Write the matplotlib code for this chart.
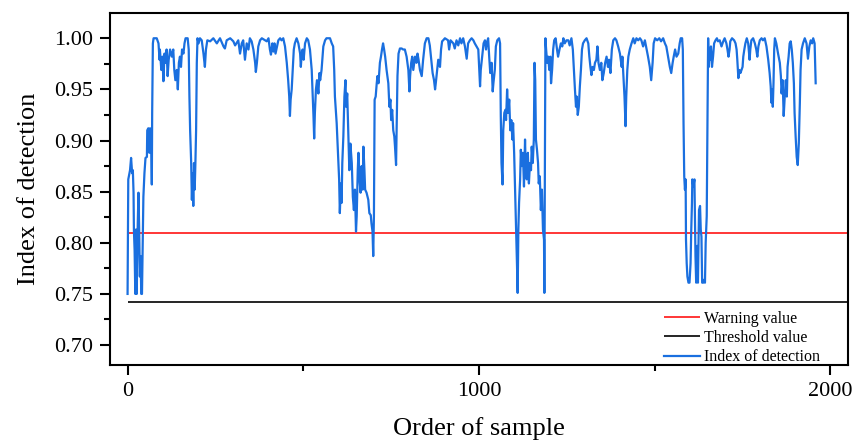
import matplotlib
matplotlib.use("Agg")
import matplotlib.pyplot as plt
from matplotlib.ticker import MultipleLocator, FormatStrFormatter

plt.rcParams['font.family'] = ['Liberation Serif', 'DejaVu Serif']

# Detection index per sample (sample order, value)
sample_idx = [
    0, 2, 7, 10, 13, 15, 17, 18, 20, 22, 24, 26, 29, 31, 33, 35, 37, 39, 41, 43, 45, 48, 51, 55, 56,
    59, 62, 64, 67, 69, 70, 72, 74, 83, 88, 91, 92, 96, 99, 102, 105, 108, 111, 114, 117, 121, 126,
    130, 133, 136, 140, 143, 146, 149, 152, 155, 159, 162, 165, 171, 174, 176, 178, 181, 183, 185,
    187, 189, 191, 193, 195, 197, 199, 202, 206, 211, 216, 220, 223, 227, 235, 244, 254, 263, 273,
    277, 282, 292, 301, 306,
    315, 320, 325, 329, 334, 339, 344, 348, 353, 358, 363, 365, 368, 372, 377, 382, 391, 396, 401,
    405, 408, 412, 415, 418, 421, 424, 429, 434, 438, 443, 448, 453, 457, 460, 462, 464, 467, 470,
    473, 476, 481, 486, 491, 493, 495, 498, 501, 505, 510, 514, 519, 524, 527, 529, 531, 533, 536,
    539, 543, 546, 548, 552, 557, 562, 566, 576, 581, 585, 588, 590, 595, 598, 602, 604, 607, 609,
    611, 614, 617, 620, 622, 625, 628, 631, 634,
    638, 641, 644, 647, 650, 652, 655, 657, 660, 663, 666, 669, 671, 674, 676, 680, 685, 688, 692,
    694, 697, 699, 701, 703, 706, 709, 711, 714, 718, 721, 724, 727, 730, 733, 737, 742, 745, 748,
    750, 753, 756, 759, 761, 764, 766, 768, 771, 775, 780, 784, 789, 794, 799, 802, 804, 807, 810,
    813, 818, 822, 825, 828, 832, 837, 841, 846, 851, 856, 860, 865, 868, 872, 875, 877, 881, 884,
    889, 892, 895, 898, 903, 912, 915, 919, 927, 931, 936, 941, 946, 950, 955, 960, 965,
    969, 974, 979, 984, 988, 993, 998, 1003, 1005, 1009, 1013, 1017, 1020, 1022, 1026, 1029, 1032,
    1036, 1039, 1041, 1045, 1048, 1052, 1057, 1060, 1062, 1064, 1067, 1069, 1072, 1075, 1077, 1080,
    1083, 1086, 1089, 1092, 1095, 1097, 1100, 1102, 1104, 1106, 1108, 1110, 1112, 1114, 1117, 1119,
    1122, 1125, 1128, 1131, 1133, 1136, 1139, 1142, 1145, 1148, 1150, 1153, 1156, 1158, 1160, 1162,
    1165, 1168, 1170, 1173, 1176, 1179, 1182, 1185, 1186, 1188, 1189, 1191, 1194, 1197, 1200, 1203,
    1205, 1208, 1211, 1214, 1218, 1222, 1225, 1229, 1233, 1237, 1240, 1244, 1249, 1254, 1258, 1263,
    1267, 1270, 1273, 1276, 1278, 1281, 1284, 1287, 1290, 1293, 1296, 1301,
    1306, 1311, 1314, 1317, 1320, 1323, 1327, 1330, 1334, 1337, 1340, 1344, 1348, 1351, 1355, 1359,
    1363, 1367, 1370, 1374, 1378, 1382, 1387, 1391, 1396, 1401, 1406, 1408, 1411, 1414, 1417, 1419,
    1422, 1425, 1429, 1434, 1439, 1443, 1448, 1453, 1458, 1462, 1467, 1472, 1477, 1481, 1486, 1490,
    1494, 1497, 1501, 1507, 1513, 1518, 1524, 1529, 1533, 1538, 1543, 1547, 1551, 1554, 1558, 1562,
    1567, 1571, 1574, 1578, 1580, 1582, 1584, 1586, 1588, 1589, 1591, 1593, 1596, 1599, 1602, 1604,
    1606, 1607, 1610, 1613,
    1616, 1618, 1621, 1623, 1626, 1629, 1631, 1633, 1635, 1638, 1641, 1643, 1645, 1648, 1650, 1652,
    1654, 1656, 1658, 1660, 1663, 1666, 1669, 1673, 1677, 1680, 1685, 1690, 1695, 1699, 1704, 1707,
    1710, 1713, 1715, 1720, 1726, 1730, 1733, 1735, 1738, 1741, 1744, 1747, 1750, 1752, 1755, 1758,
    1762, 1766, 1770, 1772, 1775, 1780, 1785, 1789, 1792, 1795, 1799, 1804, 1808, 1813, 1818, 1823,
    1827, 1830, 1832, 1834, 1836, 1838, 1840, 1842, 1846, 1851, 1856, 1859, 1861, 1864, 1867, 1870,
    1873, 1876, 1878, 1881, 1884, 1887, 1890, 1893, 1896, 1898, 1901, 1904, 1907, 1910, 1913, 1915,
    1918, 1922, 1927, 1932, 1936, 1940, 1944, 1948, 1951, 1955, 1958,
]

detection_index = [
    0.750, 0.862, 0.871, 0.883, 0.868, 0.871, 0.849, 0.813, 0.793, 0.750, 0.813, 0.750, 0.819, 0.849,
    0.813, 0.767, 0.787, 0.750, 0.750, 0.800, 0.845, 0.868, 0.883, 0.884, 0.910, 0.912, 0.888, 0.912,
    0.910, 0.857, 0.927, 0.995, 1.000, 1.000, 0.995, 0.979, 0.989, 0.969, 0.982, 0.958, 0.985, 0.976,
    0.989, 0.963, 0.979, 0.989, 0.982, 0.989, 0.969, 0.959, 0.969, 0.950, 0.976, 0.982, 0.972, 0.989,
    0.985, 0.995, 1.000, 1.000, 0.989, 0.943, 0.910, 0.878, 0.842, 0.868, 0.836, 0.878, 0.852, 0.878,
    0.910, 0.976, 1.000, 0.995, 1.000, 0.998, 0.985, 0.972, 0.989, 0.998, 0.997, 1.000, 0.995, 1.000,
    0.992, 0.990, 0.998, 1.000, 0.997, 0.993,
    0.998, 0.985, 0.995, 0.998, 0.979, 0.995, 0.989, 1.000, 0.997, 0.989, 0.976, 0.967, 0.976, 0.992,
    0.998, 1.000, 0.998, 0.997, 1.000, 0.989, 0.984, 0.995, 0.987, 0.995, 0.985, 0.990, 0.998, 1.000,
    0.998, 1.000, 0.992, 0.976, 0.959, 0.943, 0.924, 0.940, 0.950, 0.969, 0.989, 0.995, 1.000, 0.995,
    0.985, 0.972, 0.982, 0.989, 0.979, 0.995, 1.000, 0.998, 0.989, 0.969, 0.943, 0.924, 0.902, 0.927,
    0.950, 0.959, 0.946, 0.966, 0.959, 0.969, 0.992, 0.998, 1.000, 1.000, 0.995, 0.992, 0.969, 0.943,
    0.917, 0.894, 0.862, 0.829, 0.858, 0.839, 0.878, 0.904, 0.943, 0.959, 0.933, 0.946, 0.910, 0.871,
    0.897,
    0.878, 0.845, 0.832, 0.852, 0.811, 0.826, 0.871, 0.888, 0.862, 0.849, 0.875, 0.852, 0.894, 0.871,
    0.852, 0.849, 0.842, 0.829, 0.827, 0.819, 0.811, 0.787, 0.826, 0.940, 0.943, 0.956, 0.963, 0.956,
    0.976, 0.982, 0.989, 0.995, 0.989, 0.982, 0.969, 0.956, 0.933, 0.940, 0.920, 0.930, 0.910, 0.904,
    0.894, 0.876, 0.923, 0.963, 0.985, 0.990, 0.990, 0.989, 0.989, 0.982, 0.969, 0.948, 0.963, 0.976,
    0.982, 0.969, 0.982, 0.976, 0.985, 0.979, 0.969, 0.963, 0.979, 0.995, 1.000, 1.000, 0.993, 0.976,
    0.966, 0.959, 0.950, 0.956, 0.969, 0.979, 0.972, 0.989, 0.997, 0.998, 1.000, 0.998, 0.989, 0.998,
    0.995, 0.990, 0.998, 0.993, 1.000, 0.995, 1.000, 0.992, 0.980,
    0.995, 0.998, 1.000, 0.998, 0.995, 0.992, 0.989, 0.953, 0.969, 0.982, 0.995, 0.998, 0.989, 0.995,
    1.000, 0.982, 0.966, 0.976, 0.948, 0.956, 0.969, 0.992, 0.998, 1.000, 0.995, 0.924, 0.878, 0.857,
    0.910, 0.927, 0.930, 0.920, 0.950, 0.927, 0.940, 0.910, 0.920, 0.901, 0.917, 0.888, 0.862, 0.836,
    0.813, 0.780, 0.751, 0.813, 0.839, 0.862, 0.891, 0.875, 0.888, 0.855, 0.901, 0.871, 0.862, 0.888,
    0.858, 0.878, 0.871, 0.894, 0.878, 0.901, 0.976, 0.959, 0.901, 0.891, 0.878, 0.858, 0.865, 0.832,
    0.852, 0.813, 0.803, 0.751, 0.910, 1.000, 0.989, 0.976, 0.982, 0.969, 0.982, 0.956, 0.969, 0.989,
    0.998, 1.000, 0.989, 0.982, 0.989, 0.995, 0.992, 1.000, 0.995, 0.998, 0.998, 0.993, 1.000, 0.989,
    0.969, 0.950, 0.933, 0.943, 0.925, 0.933, 0.953, 0.969, 0.989, 0.995, 0.998,
    1.000, 0.995, 0.982, 0.972, 0.964, 0.972, 0.969, 0.976, 0.979, 0.992, 0.976, 0.969, 0.976, 0.959,
    0.966, 0.976, 0.982, 0.972, 0.979, 0.966, 0.989, 0.998, 1.000, 0.998, 0.992, 0.985, 0.972, 0.982,
    0.963, 0.943, 0.914, 0.943, 0.969, 0.982, 0.989, 0.995, 1.000, 0.995, 1.000, 0.998, 1.000, 0.998,
    0.992, 0.998, 0.989, 0.982, 0.972, 0.959, 0.976, 0.995, 1.000, 0.998, 1.000, 0.997, 1.000, 0.995,
    0.992, 0.982, 0.972, 0.966, 0.976, 0.982, 0.989, 0.982, 0.985, 0.995, 1.000, 1.000, 0.989, 0.917,
    0.865, 0.852, 0.862, 0.803, 0.780, 0.767, 0.761, 0.761, 0.780, 0.813, 0.839, 0.862, 0.855, 0.862,
    0.787, 0.761, 0.797, 0.761, 0.832, 0.836, 0.813, 0.806, 0.761, 0.761, 0.764, 0.761, 0.800, 0.826,
    0.910, 1.000, 0.972, 0.989, 0.979, 0.992, 0.972, 0.982, 0.995, 0.998, 1.000, 0.997, 0.998, 0.992,
    0.997, 1.000, 0.995, 0.989, 0.982, 0.989, 0.997, 1.000, 0.998, 0.995, 0.989, 0.979, 0.961, 0.969,
    0.966, 0.969, 0.972, 0.982, 0.989, 0.995, 1.000, 0.995, 0.979, 0.989, 0.998, 1.000, 0.995, 0.989,
    0.982, 0.992, 0.998, 1.000, 0.998, 1.000, 0.992, 0.979, 0.966, 0.953, 0.937, 0.950, 0.933, 0.956,
    0.989, 1.000, 0.995, 0.985, 0.976, 0.963, 0.946, 0.959, 0.924, 0.943, 0.959, 0.943, 0.972, 0.982,
    0.995, 0.997, 0.989, 0.976, 0.956, 0.927, 0.904, 0.884, 0.876, 0.897, 0.937, 0.969, 0.989, 0.995,
    1.000, 0.995, 0.980, 0.992, 0.998, 0.995, 1.000, 0.995, 0.956,
]

warning_value = 0.81
threshold_value = 0.742

x_limits = (-50, 2050)
y_limits = (0.6805, 1.0247)
x_ticks = [0, 1000, 2000]
y_ticks = [0.70, 0.75, 0.80, 0.85, 0.90, 0.95, 1.00]

fig = plt.figure(figsize=(8.53, 4.45), dpi=100)
ax = fig.add_axes([110 / 853, 1 - 365 / 445, 738 / 853, 352 / 445])

ax.hlines(warning_value, sample_idx[0], x_limits[1], colors='#ff0000', linewidth=1.1,
          label='Warning value', zorder=2)
ax.hlines(threshold_value, sample_idx[0], x_limits[1], colors='black', linewidth=1.2,
          label='Threshold value', zorder=2)
ax.plot(sample_idx, detection_index, color='#1a6fdf', linewidth=1.6,
        label='Index of detection', zorder=3)

ax.set_xlim(*x_limits)
ax.set_ylim(*y_limits)
ax.set_xticks(x_ticks)
ax.set_yticks(y_ticks)
ax.xaxis.set_minor_locator(MultipleLocator(500))
ax.yaxis.set_minor_locator(MultipleLocator(0.025))
ax.yaxis.set_major_formatter(FormatStrFormatter('%.2f'))

for side in ['left', 'bottom', 'right', 'top']:
    ax.spines[side].set_linewidth(1.5)
ax.tick_params(which='major', direction='out', length=7, width=1.5, labelsize=16,
               top=False, right=False, pad=5)
ax.tick_params(which='minor', direction='out', length=4, width=1.5,
               top=False, right=False)

ax.set_xlabel('Order of sample', fontsize=19, labelpad=12)
ax.set_ylabel('Index of detection', fontsize=19, labelpad=10)

ax.legend(loc='lower right', bbox_to_anchor=(0.975, -0.028), frameon=False, fontsize=11.5,
          handlelength=2.25, handletextpad=0.25, labelspacing=0.2, borderaxespad=0.2)

fig.savefig('out.png', dpi=100, facecolor='white')
